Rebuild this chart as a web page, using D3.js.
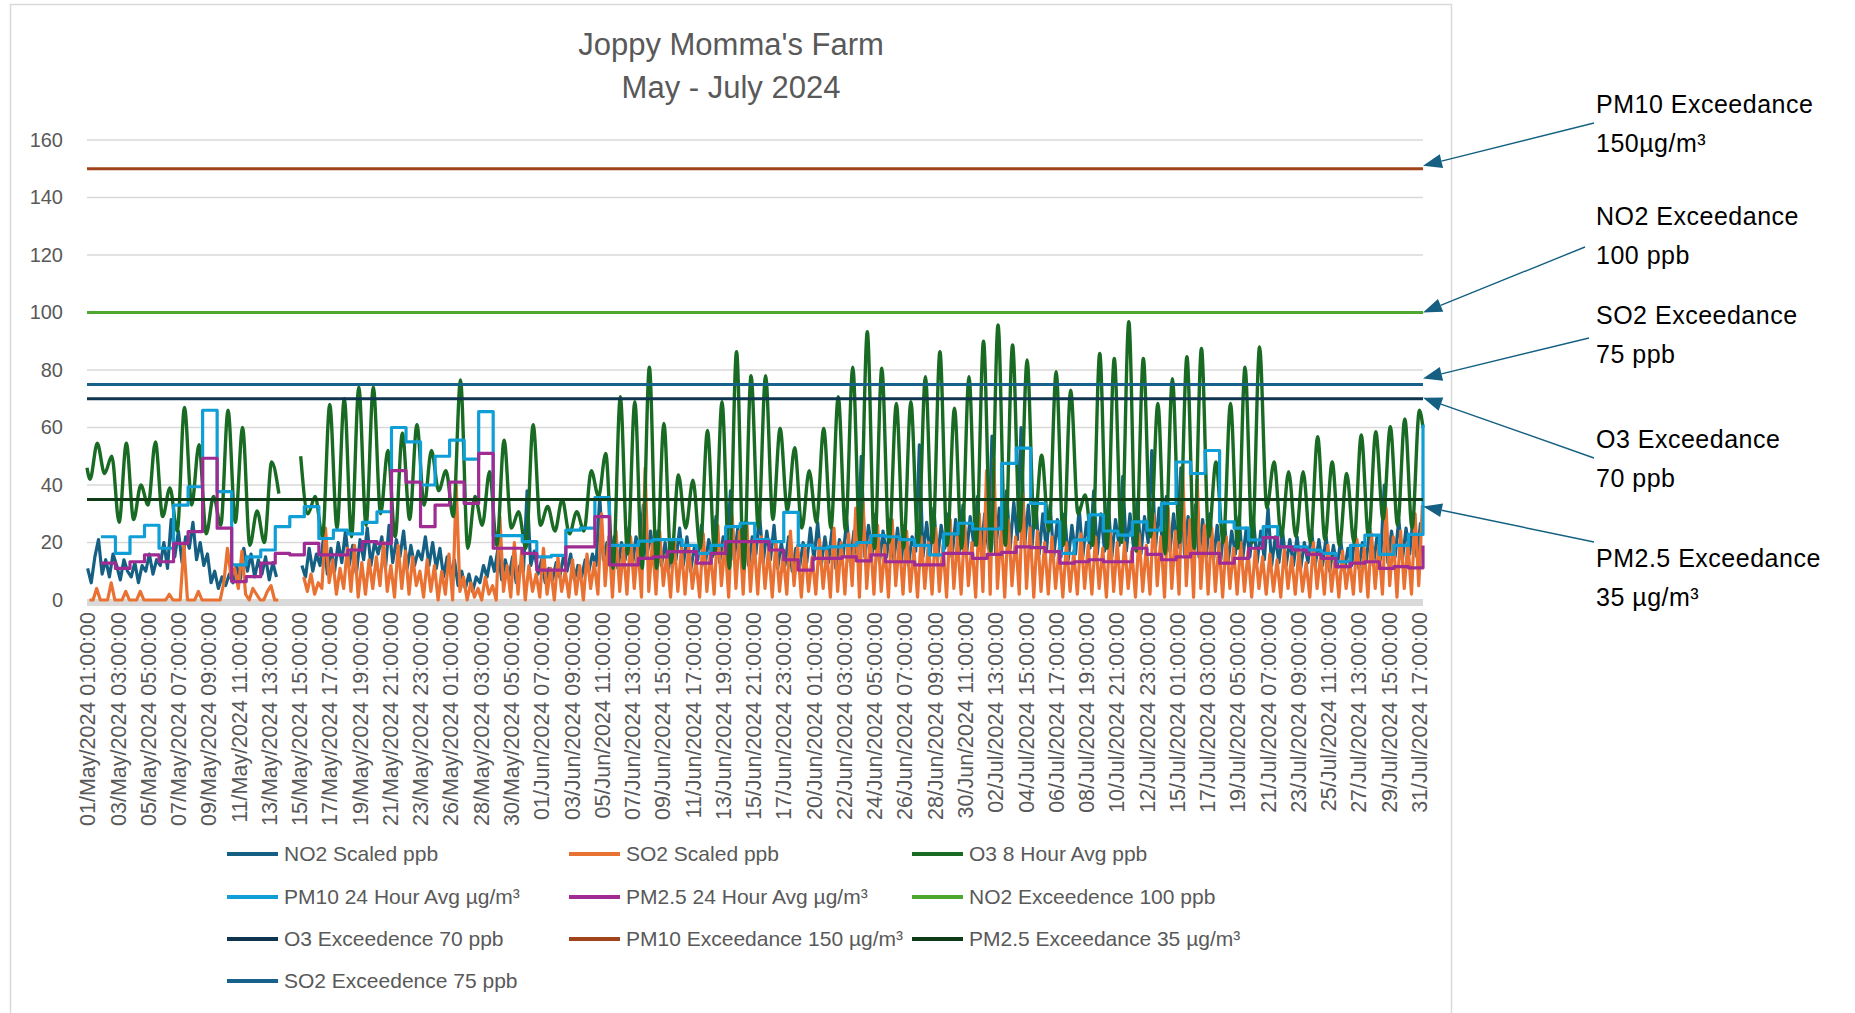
<!DOCTYPE html>
<html>
<head>
<meta charset="utf-8">
<script src="https://cdn.jsdelivr.net/npm/d3@7"></script>
<style>
  body { margin: 0; background: #fff; }
  svg text { font-family: "Liberation Sans", Arial, sans-serif; }
</style>
</head>
<body>
<svg id="chart" width="1855" height="1013"></svg>
<script>
// ---- data ----
var yTicks = [0, 20, 40, 60, 80, 100, 120, 140, 160];

var tickLabels = [
  "01/May/2024 01:00:00", "03/May/2024 03:00:00", "05/May/2024 05:00:00", "07/May/2024 07:00:00",
  "09/May/2024 09:00:00", "11/May/2024 11:00:00", "13/May/2024 13:00:00", "15/May/2024 15:00:00",
  "17/May/2024 17:00:00", "19/May/2024 19:00:00", "21/May/2024 21:00:00", "23/May/2024 23:00:00",
  "26/May/2024 01:00:00", "28/May/2024 03:00:00", "30/May/2024 05:00:00", "01/Jun/2024 07:00:00",
  "03/Jun/2024 09:00:00", "05/Jun/2024 11:00:00", "07/Jun/2024 13:00:00", "09/Jun/2024 15:00:00",
  "11/Jun/2024 17:00:00", "13/Jun/2024 19:00:00", "15/Jun/2024 21:00:00", "17/Jun/2024 23:00:00",
  "20/Jun/2024 01:00:00", "22/Jun/2024 03:00:00", "24/Jun/2024 05:00:00", "26/Jun/2024 07:00:00",
  "28/Jun/2024 09:00:00", "30/Jun/2024 11:00:00", "02/Jul/2024 13:00:00", "04/Jul/2024 15:00:00",
  "06/Jul/2024 17:00:00", "08/Jul/2024 19:00:00", "10/Jul/2024 21:00:00", "12/Jul/2024 23:00:00",
  "15/Jul/2024 01:00:00", "17/Jul/2024 03:00:00", "19/Jul/2024 05:00:00", "21/Jul/2024 07:00:00",
  "23/Jul/2024 09:00:00", "25/Jul/2024 11:00:00", "27/Jul/2024 13:00:00", "29/Jul/2024 15:00:00",
  "31/Jul/2024 17:00:00"
];
var firstTime = "01/May/2024 01:00:00";
var lastTime = "01/Aug/2024 00:00:00";

// NO2 and SO2: four readings a day, at these clock hours
var no2Hours = [2, 8, 14, 20];
var so2Hours = [5, 11, 17, 23];

var no2 = [
  [11,6,15,21],[9,14,8,16],[12,7,14,10],[8,13,6,12],[10,16,9,14],[12,20,11,28],[15,24,13,22],[18,27,14,20],
  [12,16,6,10],[4,8,5,9],[6,12,7,18],[10,16,8,14],[9,15,7,13],[8,null,null,null],[null,null,null,12],[8,18,10,16],
  [12,22,9,18],[10,20,13,24],[12,19,9,21],[14,25,12,20],[16,22,11,26],[13,21,15,24],[11,19,12,17],
  [14,22,12,20],[11,18,8,15],[9,14,5,10],[4,9,3,8],[6,12,8,15],[10,18,7,14],[8,15,6,12],[10,38,12,17],
  [9,14,6,11],[7,13,8,15],[10,16,7,12],[8,14,10,16],[12,36,14,20],[13,22,11,20],[14,25,12,22],[16,33,15,24],
  [13,24,12,20],[11,21,14,25],[12,22,10,18],[14,26,12,21],[15,29,13,22],[17,38,14,25],[15,27,12,22],
  [16,30,13,24],[14,26,11,20],[12,22,10,18],[11,20,13,25],[14,27,12,22],[13,25,11,21],[15,28,13,24],[14,50,15,26],
  [16,30,13,24],[15,28,14,25],[13,26,12,22],[17,54,15,27],[16,32,14,26],[18,30,15,28],[17,33,16,29],[19,36,17,30],
  [18,57,16,32],[20,38,18,34],[21,60,19,33],[18,35,16,30],[17,33,15,28],[15,30,14,26],[16,32,15,27],
  [18,38,16,30],[17,34,15,28],[19,43,17,30],[18,35,16,29],[20,52,18,32],[19,36,17,30],[18,46,16,29],[17,33,15,28],
  [15,30,14,26],[14,27,13,24],[16,29,14,25],[15,28,13,24],[14,32,12,22],[13,24,12,21],[12,22,11,20],[13,24,12,21],
  [12,22,10,19],[11,21,10,18],[12,23,11,20],[13,25,12,22],[14,40,13,24],[15,28,14,25],[16,30,15,27]
];

var so2 = [
  [0,0,4,0],[0,0,6,0],[0,0,3,0],[0,0,3,0],[0,0,0,0],[0,0,2,0],[0,0,19,0],[0,0,3,0],
  [0,0,0,0],[0,6,18,8],[11,4,17,2],[0,4,2,0],[0,3,5,0],[0,null,null,null],[null,null,null,8],[3,9,2,6],
  [4,25,6,14],[2,11,4,18],[3,19,1,13],[2,14,4,15],[5,20,3,12],[1,19,4,17],[2,15,5,10],
  [1,14,3,12],[0,10,2,16],[0,40,3,8],[0,6,1,4],[0,8,2,5],[0,29,3,12],[1,20,2,17],[0,12,3,9],
  [1,18,2,11],[0,15,3,10],[1,14,2,12],[0,16,4,13],[2,30,5,22],[1,24,3,18],[2,22,4,19],[1,46,3,20],
  [2,24,5,16],[1,21,3,18],[2,19,4,14],[1,23,3,17],[2,26,5,20],[1,29,4,24],[2,27,3,21],
  [2,22,4,18],[1,20,3,16],[2,24,5,19],[1,18,3,15],[2,21,4,17],[1,25,3,20],[2,23,5,32],[1,34,4,22],
  [2,26,3,19],[1,28,5,21],[2,24,3,18],[1,22,4,20],[2,25,3,19],[1,28,4,22],[2,26,5,20],[1,30,3,45],
  [2,49,4,24],[1,28,5,22],[2,37,4,25],[1,24,3,20],[2,22,4,18],[1,20,3,17],[2,23,4,19],
  [2,22,4,18],[1,24,3,20],[2,20,4,17],[1,23,3,19],[2,30,5,22],[1,32,4,24],[2,46,5,28],[1,42,4,26],
  [2,25,3,20],[1,22,4,18],[2,20,3,17],[1,18,4,15],[2,16,3,14],[1,18,4,15],[2,17,3,13],[1,20,4,16],
  [2,19,3,15],[1,17,4,14],[2,21,3,18],[1,23,4,19],[2,32,5,22],[1,24,4,20],[2,30,5,33]
];

// O3 8 hour average: daily low (early morning) and peak (evening)
var o3Start = 46;
var o3End = 60;
var o3Low = [
  42,44,27,28,33,29,24,33,23,26,27,19,20,37,null,30,22,25,22,26,30,22,28,
  33,38,29,18,26,19,25,18,26,24,23,24,36,11,16,11,11,13,25,18,16,11,11,
  25,28,31,25,27,25,24,20,18,20,18,19,20,19,18,19,17,19,24,25,24,19,30,
  19,18,20,17,22,16,20,18,22,20,18,20,32,22,22,20,21,19,20,22,28,26,25
];
var o3Peak = [
  54.5,50,54.5,40,55,39,67,54,36,66,60,31,48,null,50,36,68,70,74,74,52,58,61,
  52,45,76.5,36,44.6,55.6,30.7,61,32.5,35,30.7,45,51,70.7,69,81,61.4,43.5,41.7,59,69,86.4,78,
  78,59.7,53,45,59.7,70.7,81,93.3,80.6,68.4,69,77.7,86.4,66.7,77.7,90,95.7,88.7,83.5,50.4,79.4,73,36.5,
  85.8,84,96.8,84,68.4,77,84.6,87.5,48,68.4,81,88,48,44.6,44.6,56.8,48,44,57.4,58.5,60.3,63,66
];

// 24 hour averages, one value per day (from midnight)
var pm10 = [
  null,22,16.2,22,26,18,33,39.4,66,37.7,12.2,15,17.4,25.5,29,32.5,21.4,24.3,23,27,30.7,60,55,
  40,50,55.6,49,65.5,22.4,22.4,20.3,15,15.5,24.3,25,35.6,19,19,20.5,21,21,19,16.2,19,25.5,26.7,
  21,20.3,30.5,19,18,18.5,19,20,22.4,22,21,19,15.7,23,26.7,24.7,24.7,47.5,52.8,33.6,27.2,16.2,20.9,
  29.6,24,22.6,27.2,24.3,33.6,48,44,52,27.2,25,20.9,25.5,18.5,18.5,17.4,16.2,13.3,19,22.6,15.9,19,22.8
];
var pm10Last = 61;
var pm25 = [
  null,12.8,11,13.3,15.7,13.3,19.7,23.8,49.3,25,6.4,8.1,12.8,16.2,15.7,19.7,15.7,15.7,17.4,20.3,19.7,45,41,
  25.5,33,41,33.6,51,18,18,16.2,10.4,10.4,18.5,18.5,29,12.2,12.2,14.5,15,16.8,16.8,12.8,16.2,20.3,20.3,
  20.3,17.4,14,10.4,14.5,14.5,15,13.6,15.7,13.3,13.3,12.2,12.2,16.2,16.2,14.5,15.9,16.6,18.5,18.2,16.8,12.8,13.3,
  14,13.3,13.3,18,15.9,14,15,16.2,16.2,12.8,14.5,18,21.7,18.5,17.4,15.9,14.5,11.6,12.8,13.3,11,11.6,11.2
];
var pm25Last = 19;

var seriesNames = ["NO2 Scaled ppb", "SO2 Scaled ppb", "O3 8 Hour Avg ppb",
  "PM10 24 Hour Avg µg/m³", "PM2.5 24 Hour Avg µg/m³"];
var seriesColors = ["#156082", "#E97132", "#196B24", "#0F9ED5", "#A02B93"];

var limitNames = ["NO2 Exceedence 100 ppb", "O3 Exceedence 70 ppb", "PM10 Exceedance 150 µg/m³",
  "PM2.5 Exceedance 35 µg/m³", "SO2 Exceedence 75 ppb"];
var limitValues = [100, 70, 150, 35, 75];
var limitColors = ["#4EA72E", "#0E3450", "#A0441B", "#103B17", "#17628A"];

// callouts on the right, top to bottom
var noteLines = [["PM10 Exceedance", "150µg/m³"], ["NO2 Exceedance", "100 ppb"],
  ["SO2 Exceedance", "75 ppb"], ["O3 Exceedance", "70 ppb"], ["PM2.5 Exceedance", "35 µg/m³"]];
var noteValues = [150, 100, 75, 70, 35];

// ---- drawing ----
var svg = d3.select("#chart");
var parse = d3.utcParse("%d/%b/%Y %H:%M:%S");
var fmt = d3.utcFormat("%d/%b/%Y %H:%M:%S");
var grey = "#595959";

function at(d, h) { return new Date(Date.UTC(2024, 4, 1 + d, h)); }

var x = d3.scaleUtc().domain([parse(firstTime), parse(lastTime)]).range([87, 1423]);
var y = d3.scaleLinear().domain([0, 160]).range([600, 140]);

svg.append("rect").attr("x", 10.5).attr("y", 4.5).attr("width", 1441).attr("height", 1030)
  .attr("fill", "#fff").attr("stroke", "#d9d9d9").attr("stroke-width", 1.5);

svg.append("text").attr("x", 731).attr("y", 55).attr("text-anchor", "middle")
  .attr("font-size", 31).attr("fill", grey).text("Joppy Momma's Farm");
svg.append("text").attr("x", 731).attr("y", 98).attr("text-anchor", "middle")
  .attr("font-size", 31).attr("fill", grey).text("May - July 2024");

// grid
svg.append("g").selectAll("line").data(yTicks.slice(1)).enter().append("line")
  .attr("x1", x.range()[0]).attr("x2", x.range()[1])
  .attr("y1", function(d) { return y(d); }).attr("y2", function(d) { return y(d); })
  .attr("stroke", "#d9d9d9").attr("stroke-width", 1.5);
svg.append("rect").attr("x", x.range()[0]).attr("y", y(0) - 1).attr("width", x.range()[1] - x.range()[0])
  .attr("height", 7).attr("fill", "#d9d9d9");

var yAxis = svg.append("g").attr("transform", "translate(87,0)")
  .call(d3.axisLeft(y).tickValues(yTicks).tickSize(0).tickPadding(24));
yAxis.select(".domain").remove();
yAxis.selectAll("text").attr("font-size", 20).attr("fill", grey).attr("font-family", null);

var xAxis = svg.append("g").attr("transform", "translate(0," + y(0) + ")")
  .call(d3.axisBottom(x).tickValues(tickLabels.map(parse)).tickSize(0).tickFormat(fmt));
xAxis.select(".domain").remove();
xAxis.selectAll("text").attr("font-size", 21.5).attr("fill", grey).attr("font-family", null)
  .attr("transform", "rotate(-90)").attr("text-anchor", "end")
  .attr("x", -12).attr("y", 0).attr("dy", "0.36em");

// build series points
function hourly(rows, hours) {
  var pts = [];
  rows.forEach(function(day, d) {
    day.forEach(function(v, k) { pts.push({t: at(d, hours[k]), v: v}); });
  });
  return pts;
}
function daily(vals, last) {
  var pts = [];
  vals.forEach(function(v, d) { if (v != null) pts.push({t: at(d, 0), v: v}); });
  pts.push({t: x.domain()[1], v: last});
  return pts;
}
var o3Pts = [{t: x.domain()[0], v: o3Start}];
o3Low.forEach(function(v, d) {
  o3Pts.push({t: at(d, 6), v: v});
  o3Pts.push({t: at(d, 18), v: o3Peak[d]});
});
o3Pts.push({t: x.domain()[1], v: o3End});

var data = [hourly(no2, no2Hours), hourly(so2, so2Hours), o3Pts, daily(pm10, pm10Last), daily(pm25, pm25Last)];
var curves = [d3.curveLinear, d3.curveLinear, d3.curveMonotoneX, d3.curveStepAfter, d3.curveStepAfter];

var plot = svg.append("g").attr("fill", "none").attr("stroke-linejoin", "round");
data.forEach(function(pts, i) {
  var line = d3.line().defined(function(d) { return d.v != null; })
    .x(function(d) { return x(d.t); }).y(function(d) { return y(d.v); }).curve(curves[i]);
  plot.append("path").datum(pts).attr("d", line)
    .attr("stroke", seriesColors[i]).attr("stroke-width", i == 2 ? 3.4 : 3.2);
});
limitValues.forEach(function(v, i) {
  plot.append("line").attr("x1", x.range()[0]).attr("x2", x.range()[1])
    .attr("y1", y(v)).attr("y2", y(v)).attr("stroke", limitColors[i]).attr("stroke-width", 3);
});

// legend
var legendNames = seriesNames.concat(limitNames);
var legendColors = seriesColors.concat(limitColors);
var colX = [227, 569, 912], rowY = [854, 897, 939, 981];
var legend = svg.append("g").selectAll("g").data(legendNames).enter().append("g")
  .attr("transform", function(d, i) { return "translate(" + colX[i % 3] + "," + rowY[Math.floor(i / 3)] + ")"; });
legend.append("line").attr("x1", 0).attr("x2", 51)
  .attr("stroke", function(d, i) { return legendColors[i]; }).attr("stroke-width", 4);
legend.append("text").attr("x", 57).attr("dy", "0.35em").attr("font-size", 21).attr("fill", grey)
  .text(function(d) { return d; });

// callouts with arrows
var notes = svg.append("g");
var noteY = [104, 216, 315, 439, 558];
var arrowFrom = [[1594, 123], [1585, 247], [1589, 338], [1594, 458], [1594, 542]];
var tipDy = [-3, 0, -6, -1, 7];
noteLines.forEach(function(pair, i) {
  var t = notes.append("text").attr("font-size", 25).attr("letter-spacing", 0.5).attr("fill", "#000");
  t.append("tspan").attr("x", 1596).attr("y", noteY[i] + 9).text(pair[0]);
  t.append("tspan").attr("x", 1596).attr("y", noteY[i] + 48).text(pair[1]);

  var tx = x.range()[1], ty = y(noteValues[i]) + tipDy[i];
  var fx = arrowFrom[i][0], fy = arrowFrom[i][1];
  var ang = Math.atan2(fy - ty, fx - tx);
  var len = 19, half = 7;
  var bx = tx + len * Math.cos(ang), by = ty + len * Math.sin(ang);
  notes.append("line").attr("x1", fx).attr("y1", fy).attr("x2", bx).attr("y2", by)
    .attr("stroke", "#156082").attr("stroke-width", 1.4);
  notes.append("path").attr("fill", "#156082").attr("d",
    "M" + tx + "," + ty +
    "L" + (bx - half * Math.sin(ang)) + "," + (by + half * Math.cos(ang)) +
    "L" + (bx + half * Math.sin(ang)) + "," + (by - half * Math.cos(ang)) + "Z");
});
</script>
</body>
</html>
